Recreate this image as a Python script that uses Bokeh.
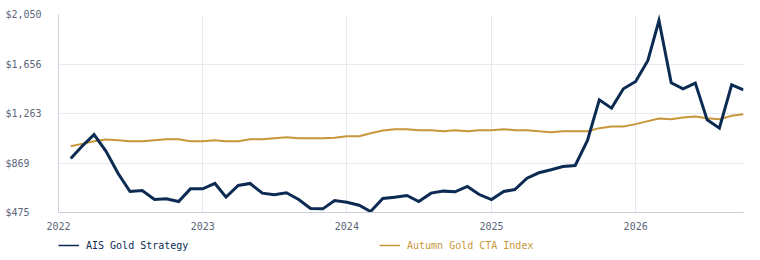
import pandas as pd
from bokeh.plotting import figure
from bokeh.layouts import column
from bokeh.models import (Range1d, FixedTicker, Legend, LegendItem,
                          ColumnDataSource, DatetimeTickFormatter)
from bokeh.embed import file_html
from bokeh.resources import INLINE

# Month-end observations, Feb 2022 through Oct 2026
months = list(pd.date_range("2022-02-01", "2026-10-01", freq="MS"))

ais_gold_strategy = [
    905, 1000, 1095, 963, 785, 642, 650, 578, 584, 562, 663,
    663, 706, 597, 690, 706, 629, 616, 632, 578, 507, 504, 570,
    557, 533, 483, 586, 597, 610, 562, 629, 645, 640, 682, 618,
    578, 642, 658, 748, 791, 815, 841, 849, 1048, 1371, 1305, 1459,
    1517, 1684, 2002, 1507, 1459, 1504, 1212, 1146, 1491, 1451,
]

autumn_gold_cta = [
    1002, 1021, 1042, 1056, 1050, 1042, 1042, 1050, 1058, 1058, 1042,
    1042, 1050, 1042, 1042, 1058, 1058, 1066, 1074, 1066, 1066, 1066, 1069,
    1082, 1082, 1106, 1127, 1138, 1138, 1130, 1130, 1122, 1130, 1122, 1130,
    1130, 1138, 1130, 1130, 1122, 1114, 1122, 1122, 1122, 1146, 1159, 1159,
    1178, 1202, 1223, 1217, 1231, 1239, 1225, 1217, 1244, 1257,
]

series_names = ["AIS Gold Strategy", "Autumn Gold CTA Index"]

y_ticks = [475, 868.75, 1262.5, 1656.25, 2050]
y_tick_labels = ["$475", "$869", "$1,263", "$1,656", "$2,050"]
year_ticks = [pd.Timestamp(f"{y}-01-01") for y in range(2022, 2027)]

NAVY = "#0c2b53"
GOLD = "#c8973a"
TICK_TEXT = "#5b6679"
FONT = "DejaVu Sans Mono"

x_start = pd.Timestamp("2022-01-01")

p = figure(
    width=760, height=236,
    x_axis_type="datetime",
    x_range=Range1d(x_start, months[-1]),
    y_range=Range1d(y_ticks[0], y_ticks[-1]),
    output_backend="svg", toolbar_location=None,
    min_border_left=58, min_border_right=17,
    min_border_top=14, min_border_bottom=24,
)
p.outline_line_color = None
p.background_fill_color = "white"
p.border_fill_color = "white"

# Series
src = ColumnDataSource(dict(date=months, ais=ais_gold_strategy, cta=autumn_gold_cta))
p.line("date", "cta", source=src, line_color=GOLD, line_width=2)
p.line("date", "ais", source=src, line_color=NAVY, line_width=3, line_join="miter")

# Axes
ms_ticks = [t.value // 10**6 for t in year_ticks]
p.xaxis.ticker = FixedTicker(ticks=ms_ticks)
p.xaxis.formatter = DatetimeTickFormatter(years="%Y", months="%Y", days="%Y")
p.yaxis.ticker = FixedTicker(ticks=y_ticks)
# monospace labels padded to equal width so they line up on the left
width = max(len(s) for s in y_tick_labels)
p.yaxis.major_label_overrides = {
    t: s + "\u00a0" * (width - len(s)) for t, s in zip(y_ticks, y_tick_labels)
}

for ax in (p.xaxis[0], p.yaxis[0]):
    ax.axis_line_color = "#c9d0dc"
    ax.axis_line_width = 1
    ax.major_tick_line_color = None
    ax.minor_tick_line_color = None
    ax.major_tick_out = 0
    ax.major_tick_in = 0
    ax.major_label_text_font = FONT
    ax.major_label_text_font_size = "10px"
    ax.major_label_text_color = TICK_TEXT
p.xaxis.major_label_standoff = 9
p.yaxis.major_label_standoff = 17

p.xgrid.ticker = FixedTicker(ticks=ms_ticks)
p.ygrid.ticker = FixedTicker(ticks=y_ticks)
for g in (p.xgrid[0], p.ygrid[0]):
    g.grid_line_color = "#e6e9ef"
    g.grid_line_width = 1

# Legend strip below the chart, one entry per series in its own colour
lg = figure(
    width=760, height=24,
    x_range=Range1d(0, 760), y_range=Range1d(0, 24),
    x_axis_type=None, y_axis_type=None,
    output_backend="svg", toolbar_location=None, min_border=0,
)
lg.outline_line_color = None
lg.grid.visible = False
nan = float("nan")
sw_ais = lg.line(x=[nan], y=[nan], line_color=NAVY, line_width=1.5)
sw_cta = lg.line(x=[nan], y=[nan], line_color=GOLD, line_width=1.5)


def add_entry(label, renderer, color, loc):
    lg.add_layout(Legend(
        items=[LegendItem(label=label, renderers=[renderer])],
        location=loc, orientation="horizontal",
        border_line_color=None, background_fill_alpha=0,
        label_text_font=FONT, label_text_font_size="10px",
        label_text_color=color, label_standoff=7,
        glyph_width=21, glyph_height=12,
        padding=0, margin=0, spacing=0,
    ))


add_entry(series_names[0], sw_ais, NAVY, (0, 9))
add_entry(series_names[1], sw_cta, GOLD, (321, 9))

layout = column(p, lg, spacing=0)
open("out.html", "w").write(file_html(layout, INLINE))
